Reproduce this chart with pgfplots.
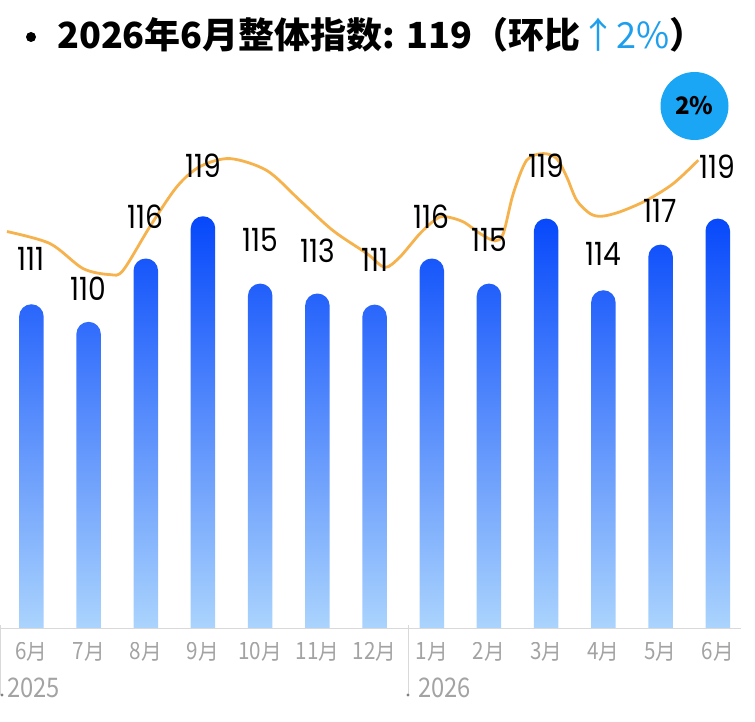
\documentclass[border=0pt]{standalone}
\usepackage{fontspec}
\setmainfont{Noto Sans CJK SC}
\newfontfamily\numfont{Poppins}
\usepackage{graphicx}
\usepackage{pgfplots}
\usepackage{pgfplotstable}
\pgfplotsset{compat=1.18}
\definecolor{barTop}{HTML}{0648FB}
\definecolor{barMid}{HTML}{3B78F7}
\definecolor{barBot}{HTML}{B0D8FD}
\definecolor{lineOr}{HTML}{F6B24C}
\definecolor{bubble}{HTML}{1AA6F4}
\definecolor{upblue}{HTML}{1E9FEE}
\definecolor{lblgray}{HTML}{A3A3A3}
\definecolor{axgray}{HTML}{D9D9D9}

\pgfplotstableread{
x v
0 111.39
1 109.88
2 115.31
3 118.93
4 113.16
5 112.31
6 111.36
7 115.31
8 113.16
9 118.73
10 112.59
11 116.50
12 118.73
}\bars

\pgfplotstableread{
x y lab
0 115.31 111
1 112.73 110
2 118.90 116
3 123.27 119
4 116.93 115
5 115.99 113
6 115.22 111
7 118.90 116
8 116.93 115
9 123.27 119
10 115.73 114
11 119.42 117
12 123.19 119
}\labs

\pgfplotstableread{
x v
-0.427 117.62
0.325 116.59
0.902 114.45
1.374 113.93
1.601 114.28
2.073 118.05
2.545 121.47
2.948 123.19
3.472 123.87
4.119 122.84
4.696 120.28
5.273 117.70
5.867 115.73
6.180 114.55
6.444 115.45
6.794 117.45
7.086 118.73
7.260 118.88
7.551 118.45
7.842 117.45
8.105 116.82
8.250 117.45
8.425 120.88
8.659 123.73
8.949 124.30
9.184 123.87
9.358 122.31
9.533 120.30
9.766 119.16
9.970 118.93
10.290 119.31
10.757 120.30
11.222 121.73
11.659 123.73
}\trend

\begin{document}
\begin{tikzpicture}[x=1pt,y=1pt]
\useasboundingbox (0,0) rectangle (755,721);
\begin{axis}[
  at={(0,68.2)}, anchor=south west,
  scale only axis, width=741pt, height=577.8pt,
  xmin=-0.549, xmax=12.406,
  ymin=0, ymax=49.51,
  enlargelimits=false,
  y filter/.expression={y-82.5},
  axis x line*=bottom, axis y line=none,
  axis line style={draw=none},
  xtick={0,...,12},
  xticklabels={6月,7月,8月,9月,10月,11月,12月,1月,2月,3月,4月,5月,6月},
  major tick length=0pt,
  xticklabel style={anchor=base, yshift=-18.5pt, text=lblgray,
    font=\fontsize{24}{27}\selectfont, xscale=0.86},
]
\addplot[ybar, bar width=24.5pt, draw=none, top color=barTop, middle color=barMid, bottom color=barBot,
  rounded corners=12.2pt] table[x=x, y=v] {\bars};
\fill[white] (axis cs:-1,-1) rectangle (axis cs:14,1.1);
\draw[axgray, line width=1pt] (axis cs:-0.549,1.1) -- (axis cs:12.406,1.1);
\addplot[lineOr, line width=2.8pt, smooth, tension=0.5, no markers] table[x=x, y=v] {\trend};
\addplot[draw=none, no markers, nodes near coords={\scalebox{0.88}[1]{\pgfplotspointmeta}},
  point meta=explicit symbolic,
  every node near coord/.append style={anchor=center, inner sep=0pt, text=black,
    font=\fontsize{32}{34}\numfont}] table[x=x, y=y, meta=lab] {\labs};
\end{axis}
% separators, years
\draw[axgray, line width=1pt] (0.5,96) -- (0.5,26);
\draw[axgray, line width=1pt] (408,96) -- (408,26);
\fill[gray] (2,26) circle (1.6);
\fill[gray] (408,26) circle (1.6);
\node[anchor=base west, inner sep=0pt, text=lblgray, font=\fontsize{27}{30}\selectfont, xscale=0.88] at (7,24) {2025};
\node[anchor=base west, inner sep=0pt, text=lblgray, font=\fontsize{27}{30}\selectfont, xscale=0.88] at (418,24) {2026};
% bubble
\fill[bubble] (694.5,615) circle (34);
\node[inner sep=0pt, font=\fontsize{24}{26}\selectfont\bfseries] at (694.5,615) {2\%};
% title
\fill[black] (31,684) circle (5);
\node[anchor=base west, inner sep=0pt, font=\fontsize{36}{40}\selectfont\bfseries] at (57,672)
  {2026年6月整体指数: 119（环比\textcolor{upblue}{\mdseries↑2\%}）};
\end{tikzpicture}
\end{document}
